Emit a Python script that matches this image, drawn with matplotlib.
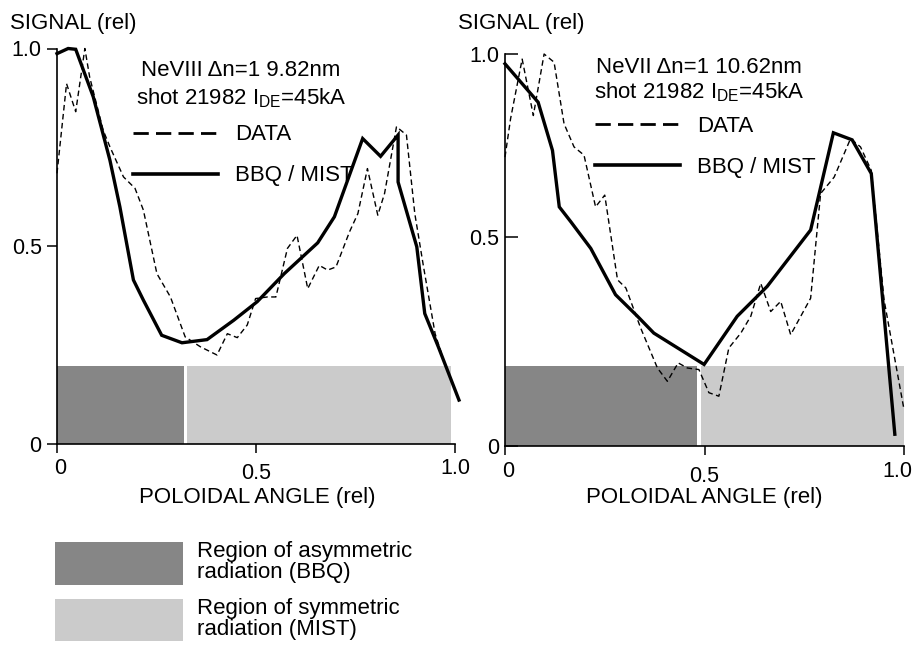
import matplotlib
matplotlib.use("Agg")
import matplotlib.pyplot as plt
import matplotlib.transforms as mtransforms
from matplotlib.lines import Line2D
from matplotlib.patches import Patch

plt.rcParams['font.family'] = ['Liberation Sans', 'DejaVu Sans']
plt.rcParams['mathtext.fontset'] = 'custom'
plt.rcParams['mathtext.rm'] = 'Liberation Sans'
plt.rcParams['mathtext.it'] = 'Liberation Sans'

# ---------------- data ----------------
# Left panel: NeVIII 9.82 nm
left_bbq_x = [0, 0.028, 0.047, 0.091, 0.133, 0.158, 0.192, 0.217, 0.263, 0.314, 0.377, 0.444,
              0.503, 0.571, 0.655, 0.697, 0.768, 0.813, 0.857, 0.857, 0.904, 0.924, 0.958, 1.01]
left_bbq_y = [0.987, 1.0, 0.998, 0.878, 0.717, 0.599, 0.414, 0.363, 0.274, 0.255, 0.263, 0.312,
              0.359, 0.430, 0.508, 0.574, 0.772, 0.727, 0.781, 0.662, 0.498, 0.329, 0.245, 0.11]
left_data_x = [0, 0.024, 0.047, 0.07, 0.082, 0.116, 0.133, 0.167, 0.196, 0.217,
               0.251, 0.285, 0.322, 0.360, 0.402, 0.428, 0.453, 0.478, 0.499, 0.529,
               0.550, 0.579, 0.603, 0.630, 0.659, 0.680, 0.701, 0.735, 0.756, 0.780,
               0.806, 0.823, 0.853, 0.878, 0.899, 0.921, 0.950, 0.975]
left_data_y = [0.684, 0.911, 0.840, 1.0, 0.928, 0.793, 0.751, 0.675, 0.646, 0.591,
               0.430, 0.371, 0.270, 0.245, 0.224, 0.278, 0.268, 0.300, 0.367, 0.371,
               0.371, 0.494, 0.527, 0.392, 0.451, 0.439, 0.447, 0.536, 0.582, 0.696,
               0.578, 0.633, 0.802, 0.781, 0.582, 0.447, 0.278, 0.20]
left_regions = [(0.0, 0.318), (0.327, 0.99)]   # asymmetric, symmetric
left_region_height = 0.196

# Right panel: NeVII 10.62 nm
right_bbq_x = [0, 0.083, 0.119, 0.136, 0.165, 0.215, 0.277, 0.332, 0.373, 0.499, 0.582,
               0.657, 0.766, 0.823, 0.870, 0.918, 0.977]
right_bbq_y = [0.975, 0.877, 0.754, 0.610, 0.572, 0.504, 0.386, 0.331, 0.288, 0.208, 0.331,
               0.407, 0.551, 0.799, 0.781, 0.695, 0.030]
right_data_x = [0, 0.014, 0.043, 0.071, 0.098, 0.123, 0.148, 0.173, 0.198, 0.227,
                0.250, 0.282, 0.303, 0.340, 0.382, 0.407, 0.434, 0.457, 0.486, 0.511,
                0.536, 0.561, 0.591, 0.616, 0.641, 0.666, 0.691, 0.716, 0.766, 0.791,
                0.825, 0.866, 0.891, 0.918, 0.950, 1.0]
right_data_y = [0.737, 0.835, 0.987, 0.843, 1.0, 0.979, 0.822, 0.763, 0.742, 0.610,
                0.640, 0.424, 0.403, 0.301, 0.199, 0.165, 0.212, 0.199, 0.195, 0.136,
                0.127, 0.250, 0.288, 0.331, 0.415, 0.343, 0.369, 0.284, 0.377, 0.644,
                0.686, 0.784, 0.763, 0.703, 0.373, 0.093]
right_regions = [(0.0, 0.482), (0.49, 1.0)]
right_region_height = 0.203

x_ticks = [0, 0.5, 1.0]
x_tick_labels = ['0', '0.5', '1.0']
left_y_ticks = [0, 0.5, 1.0]
right_y_ticks = [0, 0.534, 1.0]
y_tick_labels = ['0', '0.5', '1.0']

left_title = ["NeVIII \u0394n=1 9.82nm", "shot 21982 I$_{\\mathrm{DE}}$=45kA"]
right_title = ["NeVII \u0394n=1 10.62nm", "shot 21982 I$_{\\mathrm{DE}}$=45kA"]
legend_labels = ["DATA", "BBQ / MIST"]
region_labels = ["Region of asymmetric\nradiation (BBQ)", "Region of symmetric\nradiation (MIST)"]

DARK = '#868686'
LIGHT = '#cbcbcb'
FS = 16

fig = plt.figure(figsize=(9.15, 6.65), dpi=100)
W, H = 915.0, 665.0

ax_l = fig.add_axes([57 / W, 1 - 443.5 / H, 398 / W, 395 / H])
ax_r = fig.add_axes([505 / W, 1 - 446 / H, 399 / W, 392 / H])


def draw_panel(ax, bx, by, dx, dy, regions, rh, yticks, ydir, ylen, title, title_pos,
               leg_anchor, last_shift):
    (a0, a1), (s0, s1) = regions
    ax.bar([a0], [rh], width=[a1 - a0], align='edge', color=DARK, linewidth=0, zorder=1)
    ax.bar([s0], [rh], width=[s1 - s0], align='edge', color=LIGHT, linewidth=0, zorder=1)
    ax.plot(dx, dy, color='black', lw=1.0, ls=(0, (4, 2.5)), zorder=3, clip_on=False)
    ax.plot(bx, by, color='black', lw=2.4, ls='-', zorder=4, clip_on=False,
            solid_joinstyle='miter')
    ax.set_xlim(0, 1)
    ax.set_ylim(0, 1)
    for s in ['top', 'right']:
        ax.spines[s].set_visible(False)
    for s in ['left', 'bottom']:
        ax.spines[s].set_linewidth(1.2)
    ax.set_xticks(x_ticks)
    ax.set_xticklabels(x_tick_labels)
    ax.set_yticks(yticks)
    ax.set_yticklabels(y_tick_labels)
    ax.tick_params(axis='x', direction='out', length=6.5, width=1.1, pad=4, labelsize=15.5)
    ax.tick_params(axis='y', direction=ydir, length=ylen, width=1.1, pad=4, labelsize=15.5)
    labels = ax.get_xticklabels()
    labels[0].set_transform(labels[0].get_transform() +
                            mtransforms.ScaledTranslation(3 / 100, 0, fig.dpi_scale_trans))
    labels[1].set_transform(labels[1].get_transform() +
                            mtransforms.ScaledTranslation(0, -5 / 100, fig.dpi_scale_trans))
    labels[2].set_transform(labels[2].get_transform() +
                            mtransforms.ScaledTranslation(last_shift / 100, 0, fig.dpi_scale_trans))
    ax.set_facecolor('none')
    tx, ty1, ty2 = title_pos
    ax.text(tx, ty1, title[0], transform=ax.transAxes, ha='center', va='center', fontsize=FS)
    ax.text(tx, ty2, title[1], transform=ax.transAxes, ha='center', va='center', fontsize=FS)
    handles = [Line2D([], [], color='black', lw=2.0, ls=(0, (5.5, 2.6))),
               Line2D([], [], color='black', lw=2.6, ls='-')]
    ax.legend(handles, legend_labels, loc='upper left', bbox_to_anchor=leg_anchor,
              frameon=False, fontsize=FS, handlelength=3.85, handletextpad=0.75,
              labelspacing=0.9, borderpad=0, borderaxespad=0)


draw_panel(ax_l, left_bbq_x, left_bbq_y, left_data_x, left_data_y, left_regions,
           left_region_height, left_y_ticks, 'out', 7.0, left_title, (0.462, 0.945, 0.875),
           (0.19, 0.808), 0)
draw_panel(ax_r, right_bbq_x, right_bbq_y, right_data_x, right_data_y, right_regions,
           right_region_height, right_y_ticks, 'in', 9.5, right_title, (0.487, 0.965, 0.903),
           (0.225, 0.843), -7)

fig.text(10 / W, 1 - 23.5 / H, "SIGNAL (rel)", ha='left', va='center', fontsize=FS)
fig.text(458 / W, 1 - 23.5 / H, "SIGNAL (rel)", ha='left', va='center', fontsize=FS)
fig.text(257 / W, 1 - 497 / H, "POLOIDAL ANGLE (rel)", ha='center', va='center', fontsize=FS)
fig.text(704 / W, 1 - 497 / H, "POLOIDAL ANGLE (rel)", ha='center', va='center', fontsize=FS)

reg_handles = [Patch(facecolor=DARK, edgecolor='none'), Patch(facecolor=LIGHT, edgecolor='none')]
leg = fig.legend(reg_handles, region_labels, loc='upper left',
                 bbox_to_anchor=(55 / W, 1 - 541 / H), frameon=False, fontsize=FS,
                 handlelength=5.77, handleheight=2.57, handletextpad=0.6,
                 labelspacing=0.6, borderpad=0, borderaxespad=0)
for t in leg.get_texts():
    t.set_linespacing(1.0)

fig.savefig("out.png", dpi=100)
